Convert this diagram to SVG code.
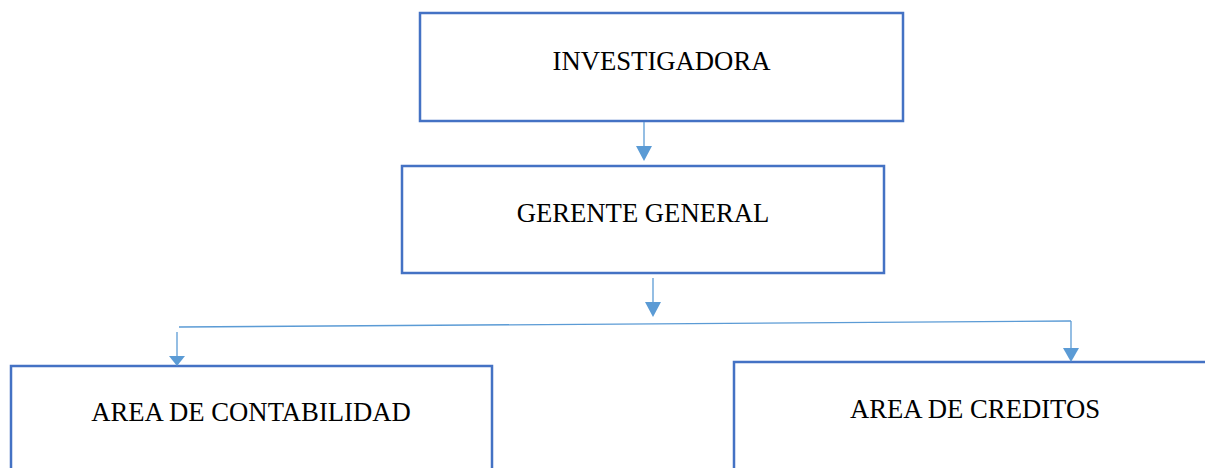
<svg xmlns="http://www.w3.org/2000/svg" width="1205" height="468" viewBox="0 0 1205 468">
<style>
.box{fill:#fff;stroke:#4472C4;stroke-width:2.5}
.lbl{font-family:"Liberation Serif","Times New Roman",serif;font-size:26.7px;fill:#000;text-anchor:middle}
.con{stroke:#5B9BD5;stroke-width:1.3;fill:none}
.head{fill:#5B9BD5}
</style>
<rect width="1205" height="468" fill="#fff"/>
<g id="investigadora"><rect class="box" x="420" y="13" width="483" height="108"/><text class="lbl" x="661.5" y="70">INVESTIGADORA</text></g>
<g id="gerente"><rect class="box" x="402" y="166" width="482" height="107"/><text class="lbl" x="643" y="222">GERENTE GENERAL</text></g>
<g id="contabilidad"><rect class="box" x="11" y="366" width="481" height="120"/><text class="lbl" x="251" y="421">AREA DE CONTABILIDAD</text></g>
<g id="creditos"><rect class="box" x="734" y="362" width="490" height="120"/><text class="lbl" x="975" y="418">AREA DE CREDITOS</text></g>
<g id="connectors">
<line class="con" x1="644" y1="122" x2="644" y2="147"/><path class="head" d="M636,146 L652,146 L644,161 Z"/>
<line class="con" x1="653" y1="278" x2="653" y2="303"/><path class="head" d="M645,302 L661,302 L653,317 Z"/>
<line class="con" x1="179" y1="327" x2="1071" y2="321"/>
<line class="con" x1="177" y1="332" x2="177" y2="357"/><path class="head" d="M169,356 L185,356 L177,366 Z"/>
<line class="con" x1="1071" y1="321" x2="1071" y2="349"/><path class="head" d="M1063,348 L1079,348 L1071,362 Z"/>
</g>
</svg>
